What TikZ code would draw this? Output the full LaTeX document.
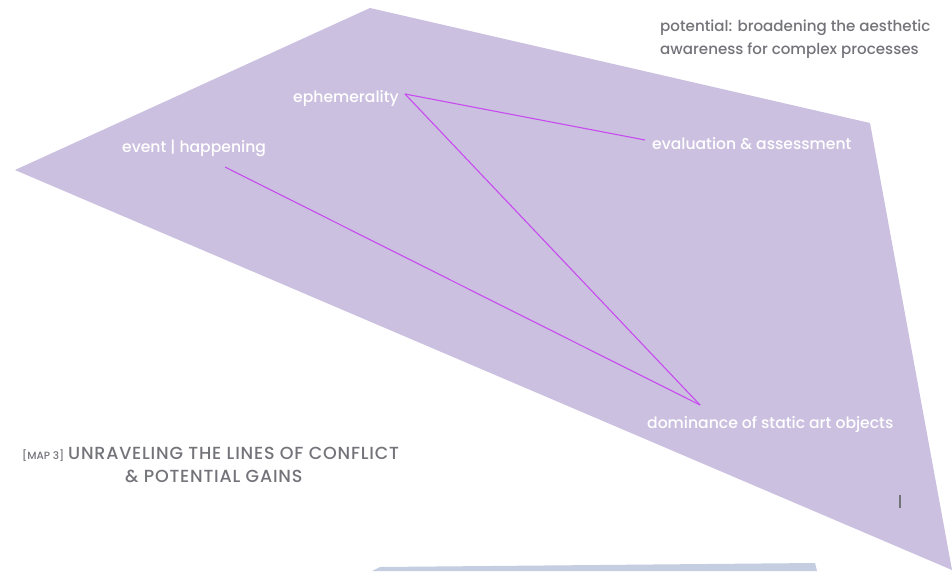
\documentclass[tikz,border=0pt]{standalone}
\usepackage{fontspec}
\setmainfont{Poppins Medium}
\definecolor{lav}{RGB}{203,192,223}
\definecolor{band}{RGB}{197,205,224}
\definecolor{mag}{RGB}{200,75,240}
\definecolor{gtxt}{RGB}{115,115,122}
\begin{document}
\begin{tikzpicture}[x=1pt,y=-1pt,
  lbl/.style={text=white,font=\fontsize{15.6}{18}\selectfont,inner sep=0pt,anchor=base west},
  gry/.style={text=gtxt,font=\fontsize{15.1}{18}\selectfont,inner sep=0pt,anchor=base west},
  capt/.style={text=gtxt,font=\fontsize{17.5}{20}\selectfont\addfontfeature{LetterSpace=4.5},inner sep=0pt,anchor=base west},
  conn/.style={draw=mag,line width=1.1pt}]
\useasboundingbox (0,0) rectangle (952,571);
\fill[lav] (370,8) -- (870,123) -- (952,570) -- (15,170) -- cycle;
\fill[band] (372,571) -- (380,567) -- (815,563) -- (817,571) -- cycle;
\node[gry] (pot1) at (660,31) {potential: broadening the aesthetic};
\node[gry] (pot2) at (660,54) {awareness for complex processes};
\node[lbl] (eph) at (293,102) {ephemerality};
\node[lbl] (evt) at (122,152) {event | happening};
\node[lbl] (eva) at (652,149) {evaluation \& assessment};
\node[lbl] (dom) at (647,428) {dominance of static art objects};
\coordinate (pe) at (405,94);
\coordinate (pv) at (645,140);
\coordinate (pd) at (700,405);
\coordinate (ph) at (225,167);
\draw[conn] (pe) -- (pv);
\draw[conn] (pe) -- (pd);
\draw[conn] (ph) -- (pd);
\node[gry,font=\fontsize{10.5}{12}\selectfont] (map) at (22,459) {[MAP 3]};
\node[capt] (t1) at (68,459) {UNRAVELING THE LINES OF CONFLICT};
\node[capt] (t2) at (125,482) {\& POTENTIAL GAINS};
\fill[gtxt] (898.5,495) rectangle (900.5,508);
\end{tikzpicture}
\end{document}
